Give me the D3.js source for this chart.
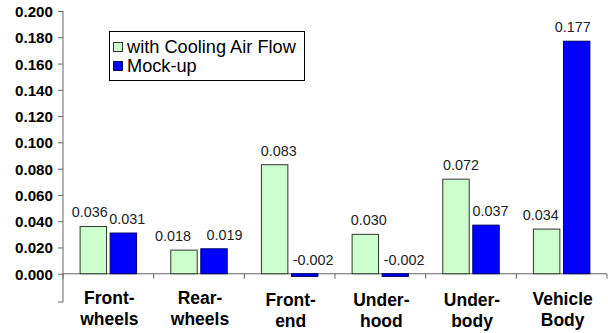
<!DOCTYPE html>
<html><head><meta charset="utf-8">
<script src="https://cdn.jsdelivr.net/npm/d3@7"></script>
<style>body{margin:0;background:#fff}svg{display:block;font-family:"Liberation Sans",Arial,sans-serif}</style>
</head><body><svg id="c" width="608" height="333"></svg>
<script>
const categories = [["Front-","wheels"],["Rear-","wheels"],["Front-","end"],["Under-","hood"],["Under-","body"],["Vehicle","Body"]];
const seriesNames = ["with Cooling Air Flow","Mock-up"];
const coolingValues = [0.036,0.018,0.083,0.030,0.072,0.034];
const mockupValues = [0.031,0.019,-0.002,-0.002,0.037,0.177];
const valueLabels1 = ["0.036","0.018","0.083","0.030","0.072","0.034"];
const valueLabels2 = ["0.031","0.019","-0.002","-0.002","0.037","0.177"];
const yTicks = [0,0.02,0.04,0.06,0.08,0.1,0.12,0.14,0.16,0.18,0.2];
// label nudges (style only)
const nudge1 = [-3.5,-11,4,3.5,5,-6];
const nudge2 = [4,10.5,8.5,8.7,4.5,-4];

const svg = d3.select("#c");
// fit font-size so that a sample text gets a target width
function fitSize(sample, target, base, weight){
  const t = svg.append("text").attr("font-size",base).attr("font-weight",weight||"normal").text(sample);
  const w = t.node().getComputedTextLength();
  t.remove();
  return w>0 ? base*target/w : base;
}
const fsTick = fitSize("0.200",38,14.5,"bold");
const fsVal = fitSize("0.036",36,14,"normal");
const fsCat = fitSize("Front-",50.5,17,"bold");
const fsLeg = fitSize("with Cooling Air Flow",169,17.5,"normal");

const y = d3.scaleLinear().domain([-0.0215,0.2]).range([302,11]);
const x = d3.scaleBand().domain(d3.range(categories.length)).range([63,607]).paddingInner(0).paddingOuter(0);
const xs = d3.scaleBand().domain([0,1]).range([0,x.bandwidth()]).paddingInner(0.12).paddingOuter(0.57);

// y axis
const yAxis = d3.axisLeft(y).tickValues(yTicks).tickFormat(d3.format(".3f")).tickSize(5).tickSizeOuter(0);
const gy = svg.append("g").attr("transform","translate(63,0)").call(yAxis);
gy.attr("font-family",null).attr("font-size",null);
gy.select(".domain").attr("stroke","#666").attr("d","M0,302V11");
gy.selectAll(".tick line").attr("stroke","#666").attr("x2",-5);
gy.selectAll(".tick text").attr("font-size",fsTick).attr("font-weight","bold").attr("fill","#000").attr("x",-10).attr("dy","0.36em");
svg.append("line").attr("x1",58).attr("x2",63).attr("y1",302).attr("y2",302).attr("stroke","#666");

// x axis line at zero
const gx = svg.append("g").attr("transform",`translate(0,${y(0)})`);
gx.append("line").attr("x1",63).attr("x2",607).attr("stroke","#666");
gx.selectAll("line.t").data(d3.range(categories.length+1)).join("line").attr("class","t")
  .attr("x1",i=>i<categories.length?x(i):607).attr("x2",i=>i<categories.length?x(i):607)
  .attr("y1",0).attr("y2",5).attr("stroke","#666");

const series = [coolingValues, mockupValues];
const labels = [valueLabels1, valueLabels2];
const nudges = [nudge1, nudge2];
const fills = ["#ccffcc","#0000ff"];
const strokes = ["#333","#000066"];
series.forEach((vals,s)=>{
  svg.append("g").selectAll("rect").data(vals).join("rect")
    .attr("x",(d,i)=>x(i)+xs(s))
    .attr("width",xs.bandwidth())
    .attr("y",d=>y(Math.max(d,0)))
    .attr("height",d=>Math.max(Math.abs(y(d)-y(0)),1))
    .attr("fill",fills[s]).attr("stroke",strokes[s]).attr("stroke-width",1);
  svg.append("g").selectAll("text").data(vals).join("text")
    .attr("x",(d,i)=>x(i)+xs(s)+xs.bandwidth()/2+nudges[s][i])
    .attr("y",d=>y(Math.max(d,0))-9)
    .attr("text-anchor","middle").attr("font-size",fsVal).attr("fill","#222")
    .text((d,i)=>labels[s][i]);
});

// category labels
const line1 = [304,304,306,306,306,305];
const line2 = [325,325,327,327,327,326];
const cl = svg.append("g").selectAll("text").data(categories).join("text")
  .attr("text-anchor","middle").attr("font-size",fsCat).attr("font-weight","bold").attr("fill","#000");
cl.each(function(d,i){
  const t=d3.select(this);
  d.forEach((line,j)=>t.append("tspan").attr("x",x(i)+x.bandwidth()/2+1).attr("y",j===0?line1[i]:line2[i]).text(line));
});

// legend
const lg = svg.append("g");
lg.append("rect").attr("x",109.5).attr("y",31.5).attr("width",195).attr("height",49).attr("fill","#fff").attr("stroke","#000");
seriesNames.forEach((n,i)=>{
  lg.append("rect").attr("x",113.5).attr("y",42.5+i*19).attr("width",9).attr("height",9).attr("fill",fills[i]).attr("stroke",strokes[i]);
  lg.append("text").attr("x",127).attr("y",53+i*19).attr("font-size",fsLeg).attr("fill","#000").text(n);
});
</script></body></html>
